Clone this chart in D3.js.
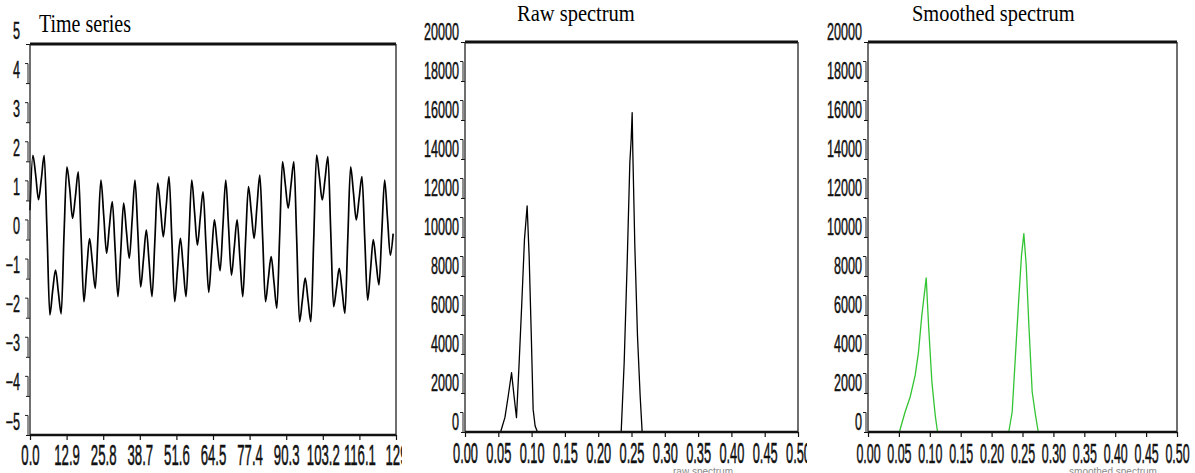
<!DOCTYPE html>
<html>
<head>
<meta charset="utf-8">
<script src="https://cdn.jsdelivr.net/npm/d3@7"></script>
<style>
  html, body { margin: 0; padding: 0; background: #fff; }
  svg { display: block; }
</style>
</head>
<body>
<svg id="chart" width="1195" height="473"></svg>
<script>
// ---- data -------------------------------------------------------------
// sampled series, one value per sample index 0..128
const tsValues = [
  0.75, 2.15, 1.65, 1.02, 1.55, 2.15, 0.2, -1.93, -1.3, -0.78,
  -1.35, -1.9, 0.15, 1.86, 1.3, 0.54, 1.1, 1.73, 0.1, -1.59,
  -0.75, 0.02, -0.6, -1.25, 0.15, 1.52, 0.6, -0.35, 0.35, 0.97,
  -0.25, -1.46, -0.3, 0.93, 0.2, -0.48, 0.5, 1.52, 0.2, -1.21,
  -0.5, 0.24, -0.6, -1.46, -0.05, 1.44, 0.8, 0.07, 0.85, 1.61,
  0.0, -1.59, -0.75, 0.03, -0.7, -1.46, 0.0, 1.52, 0.7, -0.14,
  0.55, 1.22, -0.1, -1.35, -0.4, 0.5, -0.15, -0.8, 0.35, 1.52,
  0.3, -0.91, -0.2, 0.5, -0.5, -1.46, 0.0, 1.35, 0.7, 0.03,
  0.85, 1.65, 0.05, -1.59, -1.0, -0.44, -1.1, -1.76, 0.1, 1.99,
  1.4, 0.8, 1.4, 1.99, 0.0, -2.1, -1.55, -0.99, -1.55, -2.1,
  0.0, 2.16, 1.6, 1.01, 1.55, 2.12, 0.2, -1.72, -1.25, -0.74,
  -1.3, -1.89, 0.0, 1.86, 1.2, 0.5, 1.05, 1.61, 0.0, -1.55,
  -0.8, 0.0, -0.6, -1.16, 0.2, 1.52, 0.55, -0.4, 0.15
];
const tsXTicks = [0, 12.9, 25.8, 38.7, 51.6, 64.5, 77.4, 90.3, 103.2, 116.1, 129];
const tsXLabels = ["0.0", "12.9", "25.8", "38.7", "51.6", "64.5", "77.4", "90.3", "103.2", "116.1", "129"];
const tsYTicks = [-5, -4, -3, -2, -1, 0, 1, 2, 3, 4, 5];

// periodogram before smoothing
const rawFreq  = [0, 0.0534, 0.0599, 0.0649, 0.0699, 0.0739, 0.0773, 0.0813, 0.0853, 0.0893, 0.0933,
                  0.0963, 0.0993, 0.1023, 0.1053, 0.1088, 0.2345, 0.2390, 0.2435, 0.2475, 0.2495,
                  0.2510, 0.2520, 0.2550, 0.2590, 0.2630, 0.2660, 0.5];
const rawPower = [0, 0, 735, 1845, 3040, 1760, 735, 3550, 6630, 9880, 11590,
                  9030, 5270, 1160, 310, 0, 0, 3550, 8680, 13810, 15000,
                  16380, 14320, 9540, 4920, 1850, 0, 0];

// periodogram after smoothing
const smoothFreq  = [0, 0.0508, 0.0600, 0.0682, 0.0763, 0.0817, 0.0871, 0.0942, 0.0980, 0.1034, 0.1088, 0.1125,
                     0.2278, 0.2333, 0.2386, 0.2440, 0.2484, 0.2522, 0.2560, 0.2603, 0.2657, 0.2711, 0.2755, 0.5];
const smoothPower = [0, 0, 1025, 1795, 2900, 4100, 5980, 7900, 5470, 2560, 855, 0,
                     0, 1025, 3930, 6840, 9060, 10170, 8550, 5470, 2050, 855, 0, 0];

const freqTicks  = [0, 0.05, 0.1, 0.15, 0.2, 0.25, 0.3, 0.35, 0.4, 0.45, 0.5];
const freqLabels = ["0.00", "0.05", "0.10", "0.15", "0.20", "0.25", "0.30", "0.35", "0.40", "0.45", "0.50"];
const powerTicks = [0, 2000, 4000, 6000, 8000, 10000, 12000, 14000, 16000, 18000, 20000];

// ---- drawing ----------------------------------------------------------
const svg = d3.select("#chart");
const defs = svg.append("defs");

const tickFont = "'Liberation Sans', Arial, sans-serif";
const titleFont = "'Liberation Serif', 'Times New Roman', serif";

function panel(cfg) {
  const clipId = "clip-" + cfg.id;
  defs.append("clipPath").attr("id", clipId)
    .append("rect").attr("x", cfg.clip[0]).attr("y", 0)
    .attr("width", cfg.clip[1] - cfg.clip[0]).attr("height", 473);

  const g = svg.append("g").attr("clip-path", `url(#${clipId})`);
  const x = d3.scaleLinear().domain(cfg.xDomain).range([cfg.left, cfg.right]);
  const y = d3.scaleLinear().domain(cfg.yDomain).range([cfg.bottom, cfg.top]);

  // series
  g.append("path")
    .datum(cfg.xs.map((d, i) => [d, cfg.ys[i]]))
    .attr("fill", "none")
    .attr("stroke", cfg.color)
    .attr("stroke-width", cfg.lineWidth)
    .attr("stroke-linejoin", "round")
    .attr("d", d3.line().curve(cfg.curve || d3.curveLinear)
      .x(d => x(d[0])).y(d => y(d[1])));

  // bottom axis
  const xa = g.append("g")
    .attr("transform", `translate(0,${cfg.bottom})`)
    .call(d3.axisBottom(x).tickValues(cfg.xTicks)
      .tickFormat((d, i) => cfg.xLabels[i]).tickSize(5).tickSizeOuter(0));
  xa.select(".domain").remove();
  xa.selectAll(".tick line").attr("stroke", "#111").attr("stroke-width", 1.2);
  xa.selectAll(".tick text")
    .attr("y", 0).attr("dy", 0)
    .attr("fill", "#111")
    .attr("stroke", "#111").attr("stroke-width", 0.25)
    .attr("font-family", tickFont)
    .attr("font-size", cfg.xFont)
    .attr("transform", `translate(0,${cfg.xLabelBase}) scale(1,${cfg.xStretch})`);

  // left axis: labelled ticks plus half-step ticks joined into small brackets
  const ya = g.append("g")
    .attr("transform", `translate(${cfg.left},0)`)
    .call(d3.axisLeft(y).tickValues(cfg.yTicks).tickFormat(d3.format("d"))
      .tickSize(4).tickSizeOuter(0));
  ya.select(".domain").remove();
  ya.selectAll(".tick line").attr("stroke", "#111").attr("stroke-width", 1);
  ya.selectAll(".tick text")
    .attr("x", 0).attr("dy", 0).attr("y", 0)
    .attr("fill", "#111")
    .attr("stroke", "#111").attr("stroke-width", 0.25)
    .attr("font-family", tickFont)
    .attr("font-size", cfg.yFont)
    .attr("transform", `translate(${cfg.yLabelRight - cfg.left},${-cfg.yLabelLift}) scale(1,${cfg.yStretch})`);

  const step = cfg.yTicks[1] - cfg.yTicks[0];
  const brackets = cfg.yTicks.slice(0, -1);
  g.append("g").selectAll("path").data(brackets).join("path")
    .attr("fill", "none").attr("stroke", "#222").attr("stroke-width", 1)
    .attr("d", v => {
      const y0 = y(v), y1 = y(v + step / 2);
      const ax = cfg.left;
      return `M${ax - 5},${y1}H${ax - 2}V${y0}`;
    });

  // frame: heavy top and bottom, thin sides
  g.append("line").attr("x1", cfg.left).attr("x2", cfg.right)
    .attr("y1", cfg.top).attr("y2", cfg.top)
    .attr("stroke", "#111").attr("stroke-width", 3);
  g.append("line").attr("x1", cfg.left).attr("x2", cfg.right)
    .attr("y1", cfg.bottom).attr("y2", cfg.bottom)
    .attr("stroke", "#111").attr("stroke-width", 2.5);
  g.append("line").attr("x1", cfg.left).attr("x2", cfg.left)
    .attr("y1", cfg.top).attr("y2", cfg.bottom)
    .attr("stroke", "#222").attr("stroke-width", 1.3);
  g.append("line").attr("x1", cfg.right).attr("x2", cfg.right)
    .attr("y1", cfg.top).attr("y2", cfg.bottom)
    .attr("stroke", "#222").attr("stroke-width", 1.3);

  // title
  g.append("text")
    .attr("transform", `translate(${cfg.titleX},${cfg.titleBase}) scale(1,${cfg.titleStretch})`)
    .attr("font-family", titleFont)
    .attr("font-size", cfg.titleSize)
    .attr("fill", "#000")
    .text(cfg.title);

  // faint axis caption at the very bottom edge
  if (cfg.caption) {
    g.append("text")
      .attr("x", cfg.captionX).attr("y", 475)
      .attr("text-anchor", "middle")
      .attr("font-family", tickFont)
      .attr("font-size", 10)
      .attr("fill", "#8a8a8a")
      .text(cfg.caption);
  }
}

panel({
  id: "ts", clip: [0, 402],
  left: 30, right: 396, top: 44, bottom: 435,
  xDomain: [0, 129], yDomain: [-5, 5],
  xs: tsValues.map((d, i) => i), ys: tsValues,
  color: "#000", lineWidth: 1.7, curve: d3.curveMonotoneX,
  xTicks: tsXTicks, xLabels: tsXLabels, xFont: 13.2, xStretch: 2.3, xLabelBase: 30,
  yTicks: tsYTicks, yFont: 12.6, yStretch: 1.85, yLabelRight: 20, yLabelLift: 6,
  title: "Time series", titleX: 39, titleBase: 32, titleSize: 20, titleStretch: 1.28
});

panel({
  id: "raw", clip: [402, 807],
  left: 465, right: 798, top: 42, bottom: 432,
  xDomain: [0, 0.5], yDomain: [0, 20000],
  xs: rawFreq, ys: rawPower,
  color: "#000", lineWidth: 1.3,
  xTicks: freqTicks, xLabels: freqLabels, xFont: 12.8, xStretch: 2.3, xLabelBase: 31,
  yTicks: powerTicks, yFont: 12.6, yStretch: 1.85, yLabelRight: 459, yLabelLift: 3,
  title: "Raw spectrum", titleX: 517, titleBase: 21, titleSize: 20.5, titleStretch: 1.16,
  caption: "raw spectrum", captionX: 703
});

panel({
  id: "smooth", clip: [807, 1195],
  left: 868, right: 1177, top: 42, bottom: 432,
  xDomain: [0, 0.5], yDomain: [0, 20000],
  xs: smoothFreq, ys: smoothPower,
  color: "#33c433", lineWidth: 1.3,
  xTicks: freqTicks, xLabels: freqLabels, xFont: 12.4, xStretch: 2.3, xLabelBase: 31,
  yTicks: powerTicks, yFont: 12.6, yStretch: 1.85, yLabelRight: 862, yLabelLift: 3,
  title: "Smoothed spectrum", titleX: 912, titleBase: 21, titleSize: 20.4, titleStretch: 1.16,
  caption: "smoothed spectrum", captionX: 1113
});
</script>
</body>
</html>
